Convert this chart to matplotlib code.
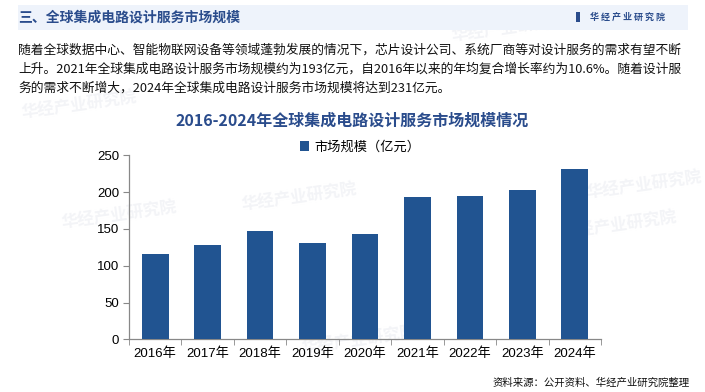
import matplotlib.pyplot as plt
from matplotlib.patches import Rectangle

plt.rcParams['font.family'] = ['Noto Sans CJK SC', 'DejaVu Sans']

years = ['2016年', '2017年', '2018年', '2019年', '2020年', '2021年', '2022年', '2023年', '2024年']
market_size = [116, 128, 147, 131, 143, 193, 195, 203, 231]
series_name = '市场规模（亿元）'
yticks = [0, 50, 100, 150, 200, 250]

header = '三、全球集成电路设计服务市场规模'
brand = '华 经 产 业 研 究 院'
paragraph = [
    '随着全球数据中心、智能物联网设备等领域蓬勃发展的情况下，芯片设计公司、系统厂商等对设计服务的需求有望不断',
    '上升。2021年全球集成电路设计服务市场规模约为193亿元，自2016年以来的年均复合增长率约为10.6%。随着设计服',
    '务的需求不断增大，2024年全球集成电路设计服务市场规模将达到231亿元。',
]
chart_title = '2016-2024年全球集成电路设计服务市场规模情况'
source = '资料来源：公开资料、华经产业研究院整理'

bar_color = '#215491'
title_color = '#2A4C8C'

W, H = 705, 392
fig = plt.figure(figsize=(W / 100, H / 100), dpi=100)
fig.patch.set_facecolor('white')

# faint watermarks
for wx, wy in [(240, 197), (560, 225), (450, 28), (20, 105), (300, 340), (585, 185), (60, 215)]:
    fig.text(wx / W, 1 - wy / H, '华经产业研究院', fontsize=12, fontweight='bold',
             color='#F3F4F7', rotation=8, ha='left', va='center', zorder=0)

# header band
fig.patches.append(Rectangle((18 / W, 1 - 30 / H), 670 / W, 25 / H, transform=fig.transFigure,
                             facecolor='#EEF3FB', edgecolor='none', zorder=1))
fig.text(18 / W, 1 - 18 / H, header, fontsize=10, fontweight='bold', color=title_color,
         ha='left', va='center', zorder=2)
fig.patches.append(Rectangle((576 / W, 1 - 22 / H), 4 / W, 10 / H, transform=fig.transFigure,
                             facecolor=title_color, edgecolor='none', zorder=2))
fig.text(590 / W, 1 - 17 / H, brand, fontsize=6.5, fontweight='bold', color=title_color,
         ha='left', va='center', zorder=2)

for i, line in enumerate(paragraph):
    fig.text(18 / W, 1 - (50 + 19 * i) / H, line, fontsize=9.2, color='#111111',
             ha='left', va='center', zorder=3)

fig.text(352 / W, 1 - 121 / H, chart_title, fontsize=11.5, fontweight='bold',
         color=title_color, ha='center', va='center', zorder=3)

ax = fig.add_axes([129 / W, 1 - 339.3 / H, 472 / W, 184 / H])
ax.set_zorder(2)
ax.set_facecolor('none')
x = list(range(len(years)))
ax.bar(x, market_size, width=0.51, color=bar_color, label=series_name, zorder=3)
ax.set_xlim(-0.5, len(years) - 0.5)
ax.set_ylim(0, 250)
ax.set_yticks(yticks)
ax.set_xticks(x)
ax.set_xticklabels(years, family=['Liberation Sans', 'Noto Sans CJK SC'], fontsize=9.5)
ax.set_xticks([i - 0.5 for i in range(len(years) + 1)], minor=True)
ax.tick_params(axis='x', which='major', length=0, pad=6)
ax.tick_params(axis='x', which='minor', length=4, color='#888888', direction='out')
ax.tick_params(axis='y', length=4, color='#888888', labelsize=9.5, pad=3)
for lab in ax.get_yticklabels():
    lab.set_family(['Liberation Sans', 'DejaVu Sans'])
for s in ['top', 'right']:
    ax.spines[s].set_visible(False)
for s in ['left', 'bottom']:
    ax.spines[s].set_color('#888888')
    ax.spines[s].set_linewidth(0.9)

ax.legend(loc='center', bbox_to_anchor=(0.49, 1.045), frameon=False, fontsize=9.5,
          handlelength=0.7, handleheight=0.7, handletextpad=0.4)

fig.text(690 / W, 1 - 383 / H, source, fontsize=7.5, color='#111111', ha='right', va='center',
         zorder=3)

fig.savefig('out.png', dpi=100)
